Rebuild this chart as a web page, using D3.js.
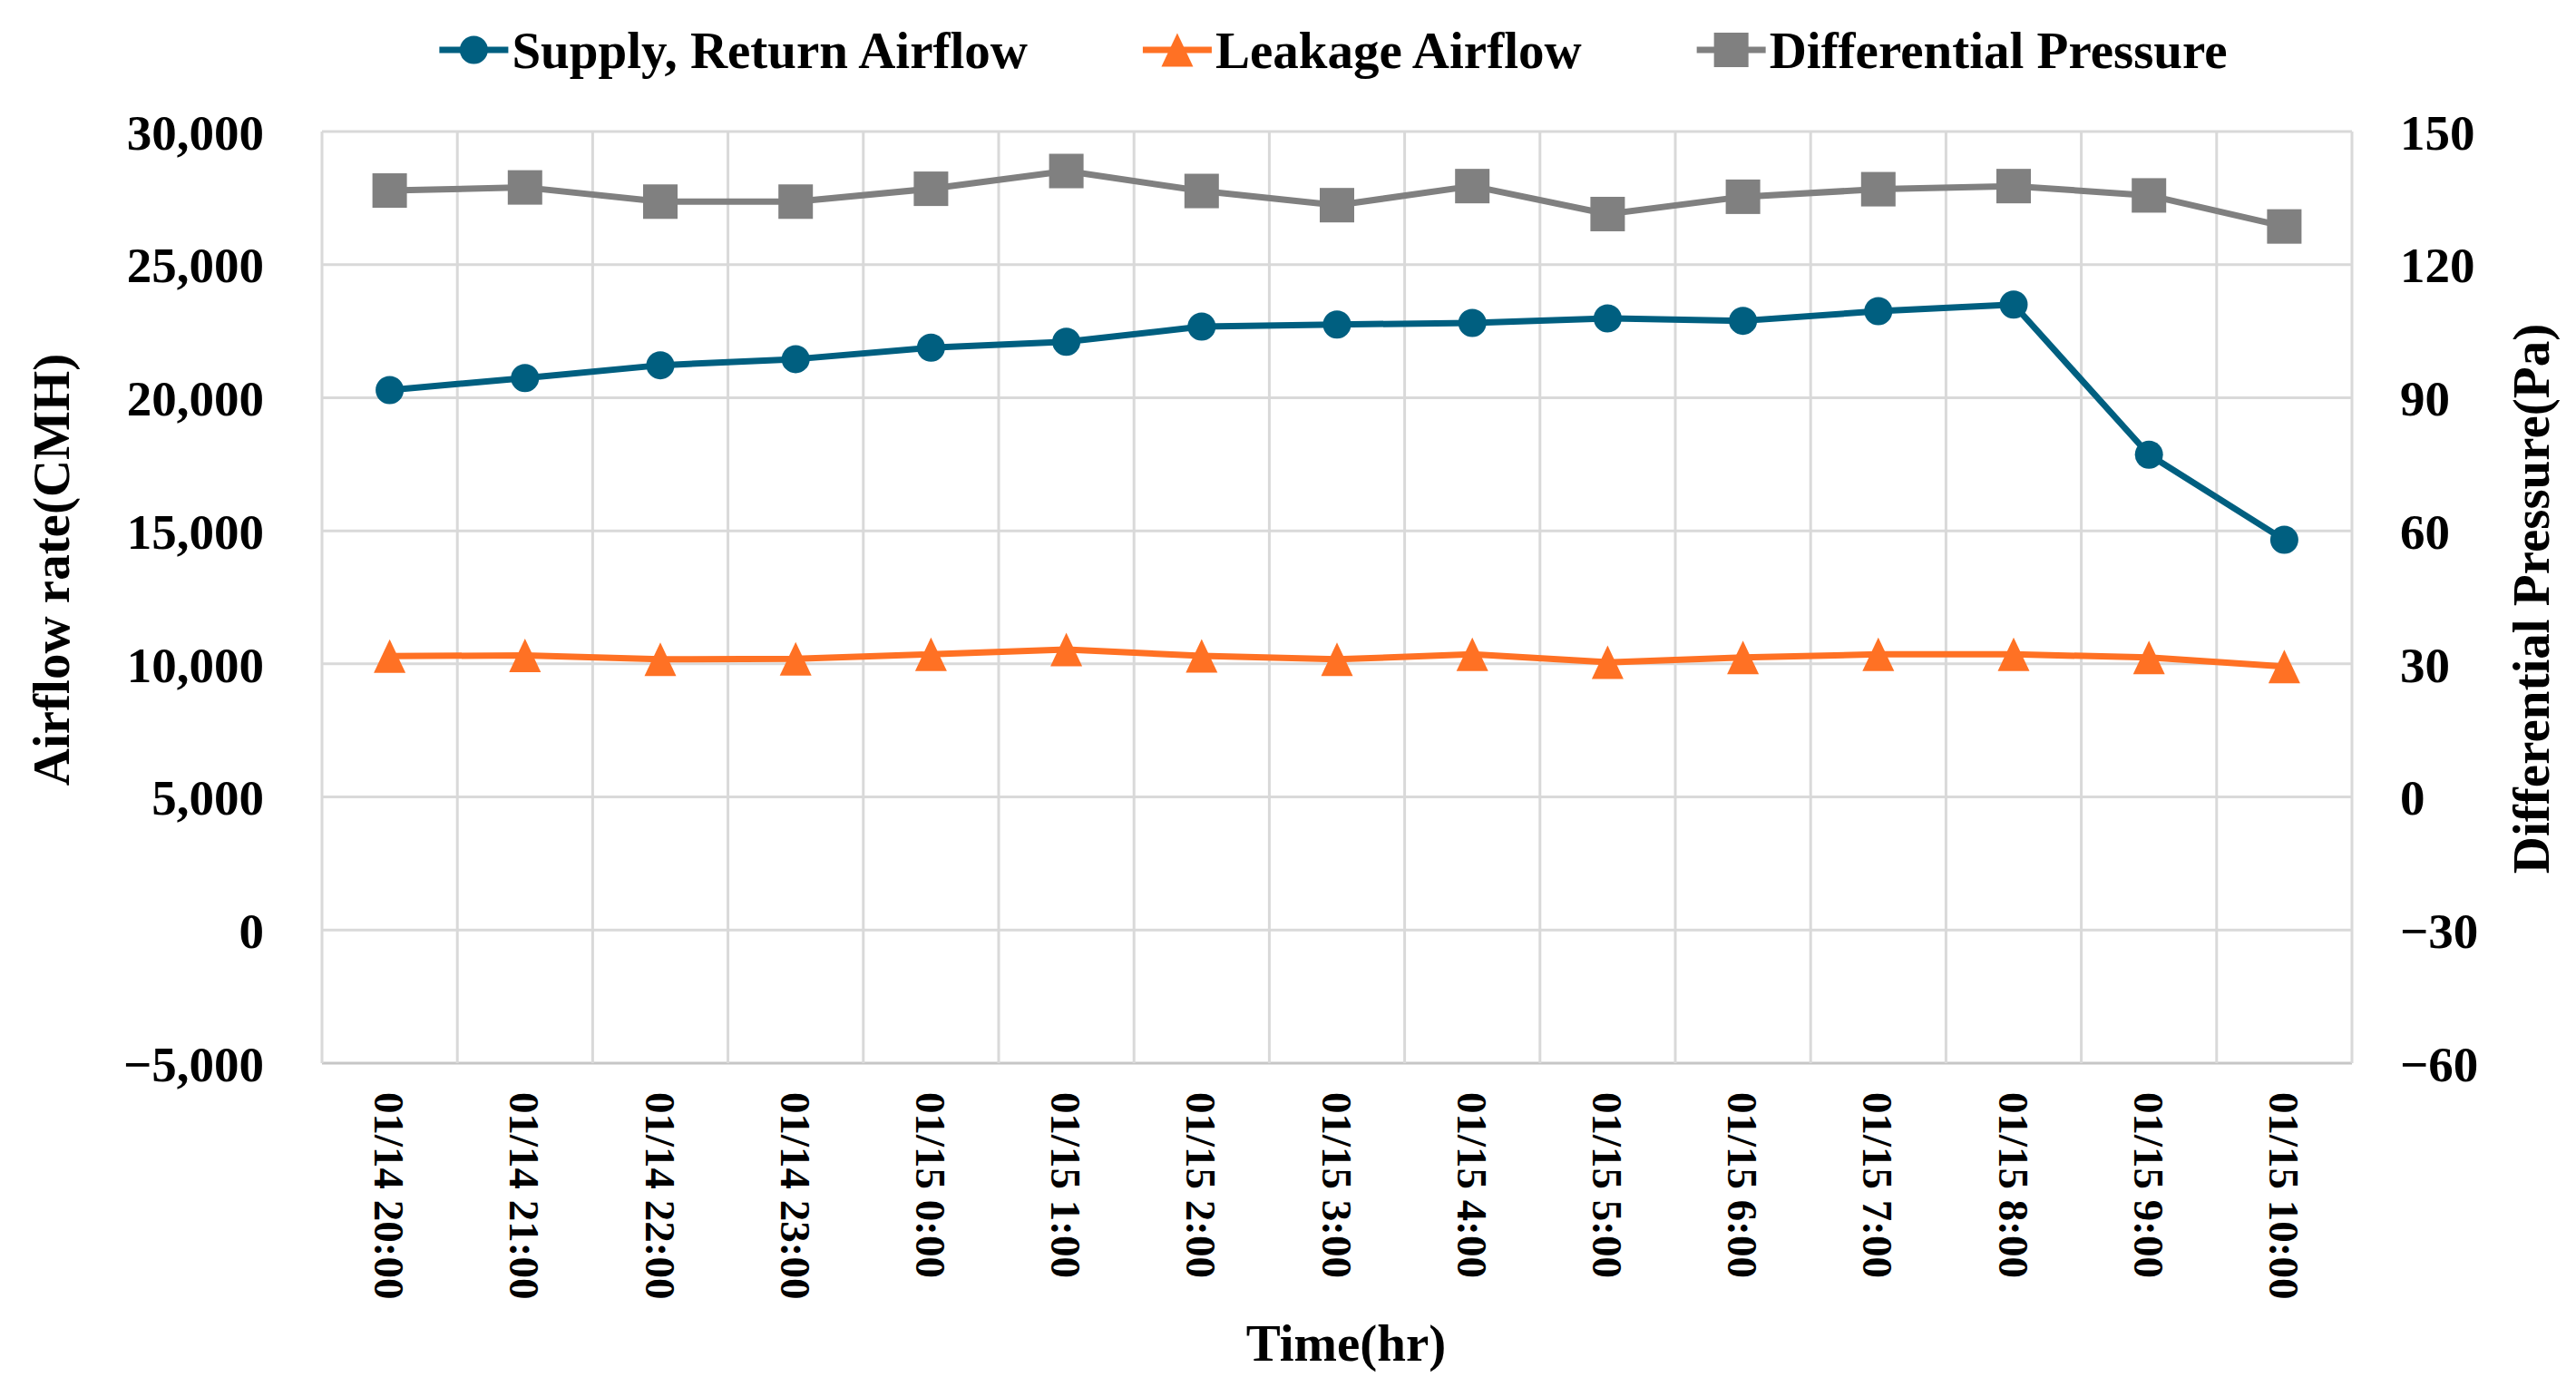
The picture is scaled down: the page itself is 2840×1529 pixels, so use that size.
<!DOCTYPE html>
<html>
<head>
<meta charset="utf-8">
<script src="https://cdn.jsdelivr.net/npm/d3@7"></script>
<style>
  body { margin: 0; background: #fff; }
  text { font-family: "Liberation Serif", "Times New Roman", serif; font-weight: bold; fill: #000; }
</style>
</head>
<body>
<div id="chart"></div>
<script>
// data
var categories = ["01/14 20:00", "01/14 21:00", "01/14 22:00", "01/14 23:00", "01/15 0:00",
  "01/15 1:00", "01/15 2:00", "01/15 3:00", "01/15 4:00", "01/15 5:00",
  "01/15 6:00", "01/15 7:00", "01/15 8:00", "01/15 9:00", "01/15 10:00"];
var supplyAirflow = [20290, 20740, 21220, 21450, 21880, 22100, 22670, 22750, 22810, 22980, 22890, 23250, 23500, 17860, 14660];
var leakageAirflow = [10290, 10320, 10170, 10190, 10360, 10540, 10300, 10170, 10360, 10060, 10240, 10360, 10360, 10240, 9900];
var diffPressure = [136.7, 137.4, 134.2, 134.2, 137.1, 141.1, 136.6, 133.4, 137.7, 131.4, 135.3, 137.0, 137.7, 135.6, 128.6];
var leftTicks = [-5000, 0, 5000, 10000, 15000, 20000, 25000, 30000];
var rightTicks = [-60, -30, 0, 30, 60, 90, 120, 150];
var seriesNames = ["Supply, Return Airflow", "Leakage Airflow", "Differential Pressure"];
var seriesColors = ["#005f80", "#ff7124", "#808080"];

var svgWidth = 2840;
var svgHeight = 1529;
var plot = { left: 355, right: 2593, top: 145, bottom: 1172 };

var svg = d3.select("#chart").append("svg")
  .attr("width", svgWidth)
  .attr("height", svgHeight);

svg.append("rect").attr("width", svgWidth).attr("height", svgHeight).attr("fill", "#fff");

var x = d3.scaleBand().domain(categories).range([plot.left, plot.right]).padding(0);
var yLeft = d3.scaleLinear().domain([-5000, 30000]).range([plot.bottom, plot.top]);
var yRight = d3.scaleLinear().domain([-60, 150]).range([plot.bottom, plot.top]);
var cx = function(d, i) { return x(categories[i]) + x.bandwidth() / 2; };

var fmt = function(v) { return v < 0 ? "\u2212" + d3.format(",")(-v) : d3.format(",")(v); };

// gridlines
var grid = svg.append("g");
grid.selectAll(".hgrid")
  .data(leftTicks)
  .enter().append("line")
  .attr("x1", plot.left).attr("x2", plot.right)
  .attr("y1", d => yLeft(d)).attr("y2", d => yLeft(d))
  .attr("stroke", d => d === -5000 ? "#c6c6c6" : "#d9d9d9")
  .attr("stroke-width", 3);

var vEdges = categories.map(c => x(c)).concat([plot.right]);
grid.selectAll(".vgrid")
  .data(vEdges)
  .enter().append("line")
  .attr("x1", d => d).attr("x2", d => d)
  .attr("y1", plot.top).attr("y2", plot.bottom)
  .attr("stroke", "#d9d9d9")
  .attr("stroke-width", 3);

// axes
var leftAxis = d3.axisLeft(yLeft).tickValues(leftTicks).tickSize(0).tickPadding(64).tickFormat(fmt);
var gLeft = svg.append("g").attr("transform", `translate(${plot.left},0)`).call(leftAxis);
gLeft.select(".domain").remove();
gLeft.selectAll("text")
  .attr("dy", "0.35em")
  .style("font-family", "Liberation Serif")
  .style("font-size", "55px").style("font-weight", "bold");

var rightAxis = d3.axisRight(yRight).tickValues(rightTicks).tickSize(0).tickPadding(53).tickFormat(fmt);
var gRight = svg.append("g").attr("transform", `translate(${plot.right},0)`).call(rightAxis);
gRight.select(".domain").remove();
gRight.selectAll("text")
  .attr("dy", "0.35em")
  .style("font-family", "Liberation Serif")
  .style("font-size", "55px").style("font-weight", "bold");

var bottomAxis = d3.axisBottom(x).tickSize(0);
var gBottom = svg.append("g").attr("transform", `translate(0,${plot.bottom})`).call(bottomAxis);
gBottom.select(".domain").remove();
gBottom.selectAll("text")
  .attr("x", 0).attr("y", 0).attr("dy", "0.35em")
  .attr("text-anchor", "start")
  .attr("transform", "translate(0,32) rotate(90)")
  .style("font-family", "Liberation Serif")
  .style("font-size", "47px").style("font-weight", "bold");

// axis titles
svg.append("text")
  .attr("transform", "translate(76,628) rotate(-90)")
  .attr("text-anchor", "middle")
  .style("font-size", "57px")
  .text("Airflow rate(CMH)");

svg.append("text")
  .attr("transform", "translate(2810,660) rotate(-90)")
  .attr("text-anchor", "middle")
  .style("font-size", "57px")
  .text("Differential Pressure(Pa)");

svg.append("text")
  .attr("x", 1484).attr("y", 1500)
  .attr("text-anchor", "middle")
  .style("font-size", "57px")
  .text("Time(hr)");

// markers
function triPath(w, h) {
  return `M0,${-h / 2}L${w / 2},${h / 2}L${-w / 2},${h / 2}Z`;
}
function drawMarker(g, kind, color) {
  if (kind === 0) {
    g.append("circle").attr("r", 15.5).attr("fill", color);
  } else if (kind === 1) {
    g.append("path").attr("d", triPath(35, 37)).attr("fill", color);
  } else {
    g.append("rect").attr("x", -19).attr("y", -19).attr("width", 38).attr("height", 38).attr("fill", color);
  }
}

var series = [
  { values: supplyAirflow, y: yLeft },
  { values: leakageAirflow, y: yLeft },
  { values: diffPressure, y: yRight }
];

series.forEach(function(s, k) {
  var line = d3.line().x(cx).y(d => s.y(d));
  svg.append("path")
    .datum(s.values)
    .attr("d", line)
    .attr("fill", "none")
    .attr("stroke", seriesColors[k])
    .attr("stroke-width", 7)
    .attr("stroke-linejoin", "round");
  svg.selectAll(".m" + k)
    .data(s.values)
    .enter().append("g")
    .attr("transform", (d, i) => `translate(${cx(d, i)},${s.y(d)})`)
    .each(function() { drawMarker(d3.select(this), k, seriesColors[k]); });
});

// legend
var legend = svg.append("g");
var lx = 0;
seriesNames.forEach(function(name, k) {
  var item = legend.append("g").attr("transform", `translate(${lx},0)`);
  item.append("line").attr("x1", 0).attr("x2", 76).attr("y1", 0).attr("y2", 0)
    .attr("stroke", seriesColors[k]).attr("stroke-width", 7);
  var m = item.append("g").attr("transform", "translate(38,0)");
  drawMarker(m, k, seriesColors[k]);
  var t = item.append("text").attr("x", 80).attr("y", 0).attr("dy", "0.35em")
    .style("font-size", "57px").text(name);
  lx += 80 + t.node().getComputedTextLength() + 127;
});
var legendWidth = lx - 127;
legend.attr("transform", `translate(${1470 - legendWidth / 2},55)`);
</script>
</body>
</html>
